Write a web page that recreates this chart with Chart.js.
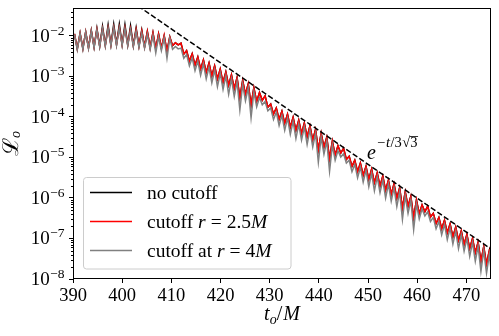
<!DOCTYPE html>
<html>
<head>
<meta charset="utf-8">
<script src="https://cdn.jsdelivr.net/npm/chart.js@4.4.0/dist/chart.umd.min.js"></script>
<style>
html,body{margin:0;padding:0;background:#fff;}
canvas{display:block;}
</style>
</head>
<body>
<canvas id="lc" width="499" height="336"></canvas>
<script>
// sample times t_o/M (peaks and troughs alternate)
const tObs = [
  390.30,390.87,391.44,392.01,392.58,393.15,393.72,394.29,394.86,395.43,
  396.00,396.57,397.14,397.71,398.28,398.85,399.42,399.99,400.56,401.13,
  401.70,402.27,402.84,403.41,403.98,404.55,405.12,405.69,406.26,406.83,
  407.40,407.97,408.54,409.11,409.68,410.25,410.82,411.39,411.96,412.53,
  413.10,413.67,414.24,414.81,415.38,415.95,416.52,417.09,417.66,418.23,
  418.80,419.37,419.94,420.51,421.08,421.65,422.22,422.79,423.36,423.93,
  424.50,425.07,425.64,426.21,426.78,427.35,427.92,428.49,429.06,429.63,
  430.20,430.77,431.34,431.91,432.48,433.05,433.62,434.19,434.76,435.33,
  435.90,436.47,437.04,437.61,438.18,438.75,439.32,439.89,440.46,441.03,
  441.60,442.17,442.74,443.31,443.88,444.45,445.02,445.59,446.16,446.73,
  447.30,447.87,448.44,449.01,449.58,450.15,450.72,451.29,451.86,452.43,
  453.00,453.57,454.14,454.71,455.28,455.85,456.42,456.99,457.56,458.13,
  458.70,459.27,459.84,460.41,460.98,461.55,462.12,462.69,463.26,463.83,
  464.40,464.97,465.54,466.11,466.68,467.25,467.82,468.39,468.96,469.53,
  470.10,470.67,471.24,471.81,472.38,472.95,473.52,474.09,474.66,475.23
];

// log10 of L_o (peak, trough pairs)
const noCutoffEarlyLog = [
  -1.95,-2.32, -1.93,-2.31, -1.90,-2.29, -1.86,-2.27, -1.81,-2.25,
  -1.76,-2.23, -1.73,-2.22, -1.71,-2.21, -1.71,-2.21, -1.72,-2.22,
  -1.75,-2.24, -1.80,-2.25, -1.85,-2.27, -1.89,-2.29, -1.92,-2.32,
  -1.95,-2.30, -2.00,-2.38
];
const cut25Log = [
  -1.95,-2.32, -1.93,-2.31, -1.90,-2.29, -1.87,-2.27, -1.84,-2.25,
  -1.82,-2.23, -1.80,-2.22, -1.79,-2.21, -1.79,-2.21, -1.80,-2.22,
  -1.82,-2.24, -1.84,-2.25, -1.87,-2.27, -1.89,-2.29, -1.92,-2.32,
  -1.95,-2.30, -1.98,-2.38, -2.02,-2.24, -2.17,-2.22, -2.18,-2.45,
  -2.36,-2.62, -2.44,-2.72, -2.52,-2.82, -2.59,-2.90, -2.67,-2.99,
  -2.74,-3.06, -2.82,-3.15, -2.89,-3.22, -2.96,-3.30, -3.03,-3.52,
  -3.10,-3.44, -3.18,-3.71, -3.28,-3.62, -3.40,-3.59, -3.48,-3.76,
  -3.68,-3.93, -3.78,-4.06, -3.86,-4.16, -3.93,-4.25, -4.01,-4.33,
  -4.08,-4.41, -4.15,-4.49, -4.22,-4.57, -4.31,-4.81, -4.40,-4.75,
  -4.50,-5.03, -4.60,-4.94, -4.71,-4.89, -4.77,-5.05, -4.97,-5.22,
  -5.07,-5.35, -5.14,-5.44, -5.22,-5.54, -5.29,-5.62, -5.38,-5.71,
  -5.46,-5.81, -5.56,-5.91, -5.65,-6.01, -5.75,-6.25, -5.85,-6.21,
  -5.96,-6.49, -6.05,-6.39, -6.17,-6.34, -6.20,-6.47, -6.38,-6.63,
  -6.48,-6.76, -6.55,-6.86, -6.64,-6.96, -6.72,-7.05, -6.81,-7.15,
  -6.90,-7.25, -7.00,-7.35, -7.09,-7.57, -7.20,-7.63, -7.30,-7.80
];
const cut4Log = [
  -1.96,-2.34, -1.94,-2.33, -1.91,-2.31, -1.88,-2.29, -1.85,-2.27,
  -1.83,-2.25, -1.81,-2.24, -1.80,-2.23, -1.80,-2.23, -1.82,-2.24,
  -1.85,-2.26, -1.89,-2.28, -1.93,-2.30, -1.96,-2.33, -1.99,-2.42,
  -2.02,-2.36, -2.05,-2.55, -2.06,-2.33, -2.26,-2.32, -2.30,-2.55,
  -2.46,-2.74, -2.54,-2.86, -2.62,-2.97, -2.69,-3.06, -2.77,-3.16,
  -2.84,-3.25, -2.92,-3.32, -2.99,-3.44, -3.06,-3.49, -3.13,-3.83,
  -3.20,-3.60, -3.28,-4.02, -3.38,-3.75, -3.52,-3.70, -3.62,-3.85,
  -3.78,-4.06, -3.88,-4.21, -3.96,-4.33, -4.03,-4.43, -4.11,-4.53,
  -4.18,-4.57, -4.25,-4.68, -4.32,-4.74, -4.41,-5.12, -4.50,-4.92,
  -4.60,-5.34, -4.70,-5.07, -4.83,-4.99, -4.91,-5.14, -5.07,-5.35,
  -5.17,-5.50, -5.24,-5.61, -5.32,-5.72, -5.39,-5.82, -5.48,-5.87,
  -5.56,-6.00, -5.66,-6.08, -5.75,-6.21, -5.85,-6.53, -5.95,-6.38,
  -6.06,-6.78, -6.15,-6.52, -6.27,-6.44, -6.34,-6.58, -6.48,-6.76,
  -6.58,-6.91, -6.65,-7.03, -6.74,-7.14, -6.82,-7.25, -6.91,-7.31,
  -7.00,-7.44, -7.10,-7.56, -7.19,-7.81, -7.30,-7.86, -7.40,-8.00
];
// no cutoff runs on top of the r=2.5M curve after the first peaks
const noCutoffLog = noCutoffEarlyLog.concat(cut25Log.slice(noCutoffEarlyLog.length));

// e^{-t/3sqrt3} guide line
const dashT = [390, 475];
const dashL = [0.70, 5.5e-8];

const xTicks = [390, 400, 410, 420, 430, 440, 450, 460, 470];
const yTicks = [1e-8, 1e-7, 1e-6, 1e-5, 1e-4, 1e-3, 1e-2];
const yMin = 1e-8, yMax = 0.049;

const SERIF = '"Liberation Serif", "DejaVu Serif", serif';

function pts(logs) {
  return tObs.map((t, k) => ({x: t, y: Math.pow(10, logs[k])}));
}

// draw a run of text pieces (roman / italic / raised) one after another
function rich(ctx, parts, x, y, align) {
  let w = 0;
  parts.forEach(p => {
    ctx.font = (p.it ? 'italic ' : '') + p.s + 'px ' + (p.f || SERIF);
    p.w = ctx.measureText(p.t).width + (p.gap || 0);
    w += p.w;
  });
  let cx = align === 'right' ? x - w : (align === 'center' ? x - w / 2 : x);
  parts.forEach(p => {
    ctx.font = (p.it ? 'italic ' : '') + p.s + 'px ' + (p.f || SERIF);
    ctx.fillText(p.t, cx, y + (p.dy || 0));
    p.x0 = cx;
    cx += p.w;
  });
  return parts;
}

const decor = {
  id: 'decor',
  afterDraw(chart) {
    const ctx = chart.ctx;
    const a = chart.chartArea;
    const xs = chart.scales.x, ys = chart.scales.y;
    ctx.save();
    ctx.fillStyle = '#000';
    ctx.strokeStyle = '#000';
    ctx.textBaseline = 'alphabetic';

    // frame
    ctx.lineWidth = 1;
    ctx.strokeRect(a.left + 0.5, a.top + 0.5, a.right - a.left - 1, a.bottom - a.top - 1);

    // minor log ticks
    ctx.beginPath();
    for (let e = -8; e <= -2; e++) {
      for (let m = 2; m <= 9; m++) {
        const v = m * Math.pow(10, e);
        if (v > yMax) continue;
        const py = Math.round(ys.getPixelForValue(v)) + 0.5;
        ctx.moveTo(a.left - 2, py);
        ctx.lineTo(a.left, py);
      }
    }
    ctx.stroke();

    // y tick labels
    yTicks.forEach(v => {
      const py = ys.getPixelForValue(v);
      const e = Math.round(Math.log10(v));
      rich(ctx, [{t: '10', s: 19, gap: 0.5}, {t: '\u2212' + (-e), s: 13.5, dy: -7, gap: 0.5}], 65, py + 6, 'right');
    });

    // x tick labels
    xTicks.forEach(v => {
      const px = xs.getPixelForValue(v);
      rich(ctx, [{t: String(v), s: 18.5}], px, 301, 'center');
    });

    // x title
    rich(ctx, [{t: 't', s: 20, it: true}, {t: 'o', s: 14, it: true, dy: 4},
               {t: '/', s: 20, gap: 1}, {t: 'M', s: 20, it: true}], (a.left + a.right) / 2, 320, 'center');

    // y title
    ctx.save();
    ctx.translate(18, (a.top + a.bottom) / 2);
    ctx.rotate(-Math.PI / 2);
    rich(ctx, [{t: '\u2112', s: 22, f: '"DejaVu Serif", serif'}, {t: 'o', s: 14, it: true, dy: 2}], 0, 0, 'center');
    ctx.restore();

    // annotation e^{-t/3sqrt3}
    const an = rich(ctx, [{t: 'e', s: 20, it: true}], 367, 159, 'left');
    const sup = rich(ctx, [{t: '\u2212', s: 14.5, gap: 1}, {t: 't', s: 14.5, it: true, gap: 0.5}, {t: '/3', s: 14.5, gap: 0.5},
                           {t: '\u221a', s: 14.5}, {t: '3', s: 14.5}], an[0].x0 + an[0].w + 1, 147, 'left');
    const s3 = sup[4];
    ctx.lineWidth = 0.8;
    ctx.beginPath();
    ctx.moveTo(s3.x0 - 0.5, 136.5);
    ctx.lineTo(s3.x0 + s3.w + 0.5, 136.5);
    ctx.stroke();

    // legend
    const lx = 83.5, ly = 177.5, lw = 207.5, lh = 91.5;
    ctx.beginPath();
    ctx.roundRect(lx, ly, lw, lh, 3);
    ctx.fillStyle = 'rgba(255,255,255,0.8)';
    ctx.fill();
    ctx.strokeStyle = '#cccccc';
    ctx.lineWidth = 1;
    ctx.stroke();
    const rows = [
      [{t: 'no cutoff', s: 19.5}],
      [{t: 'cutoff ', s: 19.5}, {t: 'r', s: 19.5, it: true, gap: 5}, {t: '=', s: 19.5, gap: 5}, {t: '2.5', s: 19.5}, {t: 'M', s: 19.5, it: true}],
      [{t: 'cutoff at ', s: 19.5}, {t: 'r', s: 19.5, it: true, gap: 5}, {t: '=', s: 19.5, gap: 5}, {t: '4', s: 19.5}, {t: 'M', s: 19.5, it: true}]
    ];
    const rowY = [192.5, 221.5, 250.5];
    [0, 1, 2].forEach((di, r) => {
      const ds = chart.data.datasets[di];
      ctx.strokeStyle = ds.borderColor;
      ctx.lineWidth = ds.borderWidth;
      ctx.beginPath();
      ctx.moveTo(90, rowY[r]);
      ctx.lineTo(132, rowY[r]);
      ctx.stroke();
      ctx.fillStyle = '#000';
      rich(ctx, rows[r], 147, rowY[r] + 6, 'left');
    });
    ctx.restore();
  }
};

const chart = new Chart(document.getElementById('lc'), {
  type: 'line',
  data: {
    datasets: [
      {label: 'no cutoff', data: pts(noCutoffLog), borderColor: '#000000', borderWidth: 1.5, order: 3},
      {label: 'cutoff r = 2.5M', data: pts(cut25Log), borderColor: '#ff0000', borderWidth: 1.5, order: 2},
      {label: 'cutoff at r = 4M', data: pts(cut4Log), borderColor: '#808080', borderWidth: 1.5, order: 1},
      {label: 'guide', data: dashT.map((t, k) => ({x: t, y: dashL[k]})), borderColor: '#000000',
       borderWidth: 1.5, borderDash: [5.5, 2.4], order: 0}
    ]
  },
  options: {
    responsive: false,
    animation: false,
    devicePixelRatio: 1,
    layout: {padding: {left: 0, top: 8, right: 8, bottom: 0}},
    elements: {point: {radius: 0}, line: {tension: 0, fill: false}},
    plugins: {legend: {display: false}, tooltip: {enabled: false}},
    scales: {
      x: {
        type: 'linear', min: 390, max: 475,
        afterBuildTicks: s => { s.ticks = xTicks.map(v => ({value: v})); },
        afterFit: s => { s.height = 57; },
        ticks: {display: false},
        grid: {drawOnChartArea: false, drawTicks: true, tickLength: 4, color: '#000'},
        border: {display: false}
      },
      y: {
        type: 'logarithmic', min: yMin, max: yMax,
        afterBuildTicks: s => { s.ticks = yTicks.map(v => ({value: v})); },
        afterFit: s => { s.width = 73; },
        ticks: {display: false},
        grid: {drawOnChartArea: false, drawTicks: true, tickLength: 4, color: '#000'},
        border: {display: false}
      }
    }
  },
  plugins: [decor]
});
</script>
</body>
</html>
